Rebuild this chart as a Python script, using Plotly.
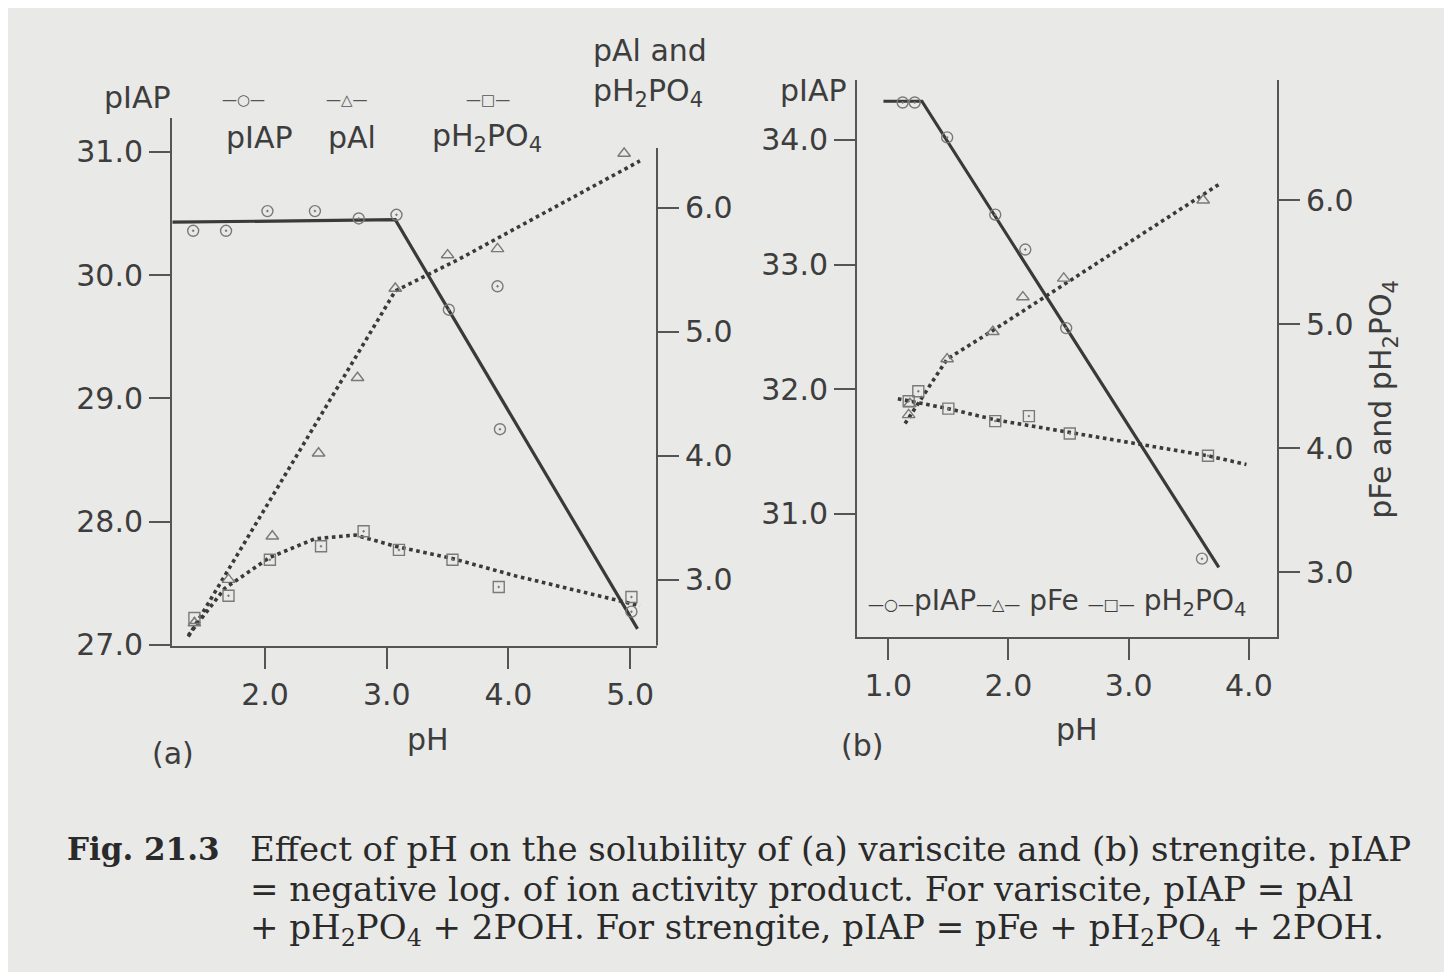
import plotly.graph_objects as go

# ---------------- data : panel (a) variscite ----------------
ph_a_iap = [1.41, 1.68, 2.02, 2.41, 2.77, 3.08, 3.51, 3.91, 3.93, 5.01]
iap_a = [30.36, 30.36, 30.52, 30.52, 30.46, 30.49, 29.72, 29.91, 28.75, 27.27]
ph_a_iap_fit = [1.24, 3.07, 5.06]
iap_a_fit = [30.43, 30.45, 27.13]

ph_a_al = [1.42, 1.70, 2.06, 2.44, 2.76, 3.07, 3.50, 3.91, 4.95]
pal_a = [2.65, 3.00, 3.35, 4.02, 4.63, 5.35, 5.62, 5.67, 6.44]
ph_a_al_fit = [1.37, 3.07, 3.60, 5.08]
pal_a_fit = [2.54, 5.33, 5.59, 6.38]

ph_a_p = [1.42, 1.70, 2.04, 2.46, 2.81, 3.10, 3.54, 3.92, 5.01]
pp_a = [2.69, 2.87, 3.16, 3.27, 3.39, 3.24, 3.16, 2.94, 2.86]
ph_a_p_fit = [1.37, 1.67, 2.04, 2.41, 2.74, 3.07, 3.54, 4.06, 4.61, 5.08]
pp_a_fit = [2.55, 2.93, 3.18, 3.33, 3.36, 3.27, 3.17, 3.03, 2.90, 2.79]

# ---------------- data : panel (b) strengite ----------------
ph_b_iap = [1.12, 1.22, 1.49, 1.89, 2.14, 2.48, 3.61]
iap_b = [34.30, 34.30, 34.02, 33.40, 33.12, 32.49, 30.64]
ph_b_iap_fit = [0.96, 1.28, 3.75]
iap_b_fit = [34.31, 34.31, 30.57]

ph_b_fe = [1.17, 1.18, 1.49, 1.87, 2.12, 2.46, 3.62]
pfe_b = [4.27, 4.36, 4.72, 4.94, 5.22, 5.37, 6.00]
ph_b_fe_fit = [1.14, 1.49, 1.87, 3.77]
pfe_b_fit = [4.20, 4.72, 4.95, 6.14]

ph_b_p = [1.17, 1.25, 1.50, 1.89, 2.17, 2.51, 3.66]
pp_b = [4.38, 4.46, 4.32, 4.22, 4.26, 4.12, 3.94]
ph_b_p_fit = [1.08, 1.50, 1.89, 2.51, 3.66, 3.98]
pp_b_fit = [4.40, 4.32, 4.23, 4.13, 3.94, 3.87]

x_ticks_a = [2, 3, 4, 5]
x_ticks_b = [1, 2, 3, 4]
y_left_a = [27, 28, 29, 30, 31]
y_left_b = [30, 31, 32, 33, 34]
y_right = [3, 4, 5, 6]

# ---------------- style ----------------
OFF = 8  # page margin of the html body
W, H = 1452 - 2 * OFF, 980 - 2 * OFF
YS = 1.017  # vertical correction
BG = "#e9e9e7"
INK = "#3d3d3d"
AX = "#555555"
LINE = "#3a3a3a"
MK = "#7a7a7a"
SANS = "DejaVu Sans, Verdana, sans-serif"
SERIF = "DejaVu Serif, Liberation Serif, serif"
TF = dict(family=SANS, size=30, color=INK)


def px(x):
    return (x - OFF) / W


def py(y):
    return 1 - (y * YS - OFF) / H


fig = go.Figure()


def solid(x, y, xa, ya):
    fig.add_trace(go.Scatter(x=x, y=y, xaxis=xa, yaxis=ya, mode="lines",
                             line=dict(color=LINE, width=3.2), showlegend=False,
                             hoverinfo="skip"))


def dotted(x, y, xa, ya):
    fig.add_trace(go.Scatter(x=x, y=y, xaxis=xa, yaxis=ya, mode="lines",
                             line=dict(color=LINE, width=3.6, dash="dot"),
                             showlegend=False, hoverinfo="skip"))


def marks(x, y, xa, ya, sym):
    fig.add_trace(go.Scatter(x=x, y=y, xaxis=xa, yaxis=ya, mode="markers",
                             marker=dict(symbol=sym, size=11, color=MK,
                                         line=dict(color=MK, width=1.4)),
                             showlegend=False))


# panel (a)
solid(ph_a_iap_fit, iap_a_fit, "x", "y")
marks(ph_a_iap, iap_a, "x", "y", "circle-open-dot")
dotted(ph_a_al_fit, pal_a_fit, "x", "y2")
marks(ph_a_al, pal_a, "x", "y2", "triangle-up-open")
dotted(ph_a_p_fit, pp_a_fit, "x", "y2")
marks(ph_a_p, pp_a, "x", "y2", "square-open-dot")

# panel (b)
solid(ph_b_iap_fit, iap_b_fit, "x2", "y3")
marks(ph_b_iap, iap_b, "x2", "y3", "circle-open-dot")
dotted(ph_b_fe_fit, pfe_b_fit, "x2", "y4")
marks(ph_b_fe, pfe_b, "x2", "y4", "triangle-up-open")
dotted(ph_b_p_fit, pp_b_fit, "x2", "y4")
marks(ph_b_p, pp_b, "x2", "y4", "square-open-dot")

axcommon = dict(showgrid=False, zeroline=False, ticks="outside", ticklen=21,
                tickwidth=2, tickcolor=AX, tickfont=TF, linecolor=AX,
                linewidth=2)


def fmt(v):
    return [f"{t:.1f}" for t in v]


# panel a: x 172..657, y 118..646 ; panel b: x 857..1277, y 80..637 (page px)
fig.update_layout(
    width=W, height=H, margin=dict(l=0, r=0, t=0, b=0),
    paper_bgcolor=BG, plot_bgcolor="rgba(0,0,0,0)",
    xaxis=dict(domain=[px(172), px(657)], range=[1.236, 5.22], anchor="y",
               tickvals=x_ticks_a, ticktext=fmt(x_ticks_a), showline=True,
               **axcommon),
    yaxis=dict(domain=[py(646), py(118)], range=[26.995, 31.275], anchor="x",
               tickvals=y_left_a, ticktext=fmt(y_left_a), showline=True,
               **axcommon),
    yaxis2=dict(overlaying="y", side="right", anchor="x", range=[2.468, 6.726],
                tickvals=y_right, ticktext=fmt(y_right), showline=False,
                **axcommon),
    xaxis2=dict(domain=[px(857), px(1277)], range=[0.74, 4.234], anchor="y3",
                tickvals=x_ticks_b, ticktext=fmt(x_ticks_b), showline=True,
                **axcommon),
    yaxis3=dict(domain=[py(637), py(80)], range=[30.015, 34.48], anchor="x2",
                tickvals=y_left_b, ticktext=fmt(y_left_b), showline=True,
                **axcommon),
    yaxis4=dict(overlaying="y3", side="right", anchor="x2", range=[2.483, 6.969],
                tickvals=y_right, ticktext=fmt(y_right), showline=True,
                **axcommon),
    showlegend=False,
)

# right axis line of panel (a) starts lower than the left one
fig.add_shape(type="line", xref="x domain", yref="y domain", x0=1, x1=1,
              y0=0, y1=(646 - 148) / (646 - 118), line=dict(color=AX, width=2))

ann = []


def text(x, y, s, size=30, xanchor="center", font=SANS, angle=0, color=INK):
    ann.append(dict(x=px(x), y=py(y), xref="paper", yref="paper", text=s,
                    showarrow=False, xanchor=xanchor, yanchor="middle",
                    textangle=angle, font=dict(family=font, size=size, color=color)))


SUB = "pH<sub>2</sub>PO<sub>4</sub>"

# panel (a) labels
text(137, 97, "pIAP")
text(650, 50, "pAl and")
text(648, 92, SUB)
text(243, 100, "—○—", size=15, color="#555")
text(347, 100, "—△—", size=15, color="#555")
text(488, 100, "—□—", size=15, color="#555")
text(259, 137, "pIAP")
text(352, 137, "pAl")
text(487, 137, SUB)
text(428, 740, "pH")
text(173, 754, "(a)")

# panel (b) labels
text(813, 90, "pIAP")
text(1077, 730, "pH")
text(862, 746, "(b)")
text(1383, 400, "pFe and " + SUB, angle=-90)
G = "<span style='font-size:16px'>"
text(866, 603, G + "—○—</span>pIAP" + G + "—△—</span> pFe "
     + G + "—□—</span> " + SUB, xanchor="left", size=28)

# caption
CAP = 34
CC = "#2a2a2a"
text(65, 850, "<b>Fig. 21.3</b>", size=31, xanchor="left", font=SERIF, color=CC)
text(248, 850, "Effect of pH on the solubility of (a) variscite and (b) strengite. pIAP",
     size=CAP, xanchor="left", font=SERIF, color=CC)
text(248, 890, "= negative log. of ion activity product. For variscite, pIAP = pAl",
     size=CAP, xanchor="left", font=SERIF, color=CC)
text(248, 930, "+ pH<sub>2</sub>PO<sub>4</sub> + 2POH. For strengite, pIAP = pFe + "
     "pH<sub>2</sub>PO<sub>4</sub> + 2POH.",
     size=CAP, xanchor="left", font=SERIF, color=CC)

fig.update_layout(annotations=ann)
fig.write_html("out.html")
